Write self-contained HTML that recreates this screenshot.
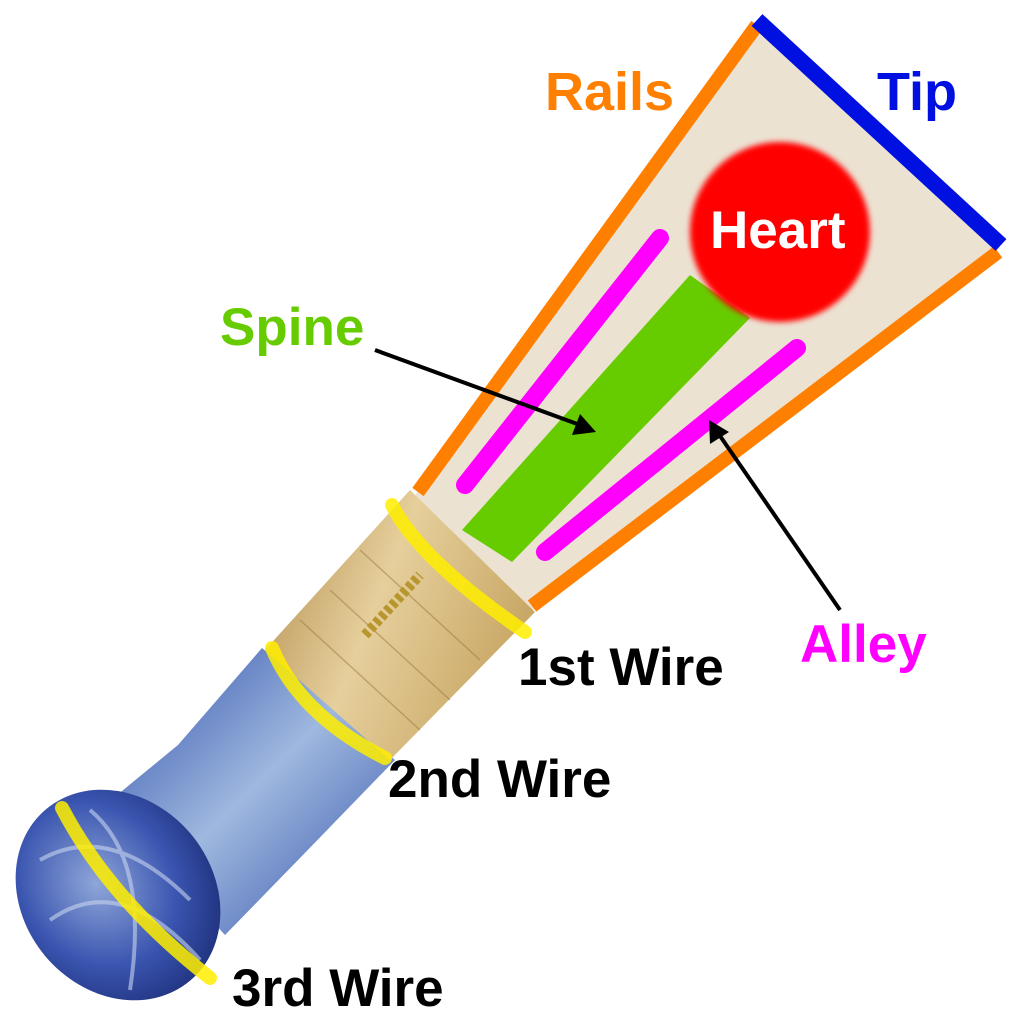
<!DOCTYPE html>
<html><head><meta charset="utf-8"><style>
html,body{margin:0;padding:0;background:#fff;}
svg{display:block;}
text{font-family:"Liberation Sans",Arial,sans-serif;font-weight:bold;}
</style></head><body>
<svg width="1024" height="1024" viewBox="0 0 1024 1024" xmlns="http://www.w3.org/2000/svg">
<defs>
<radialGradient id="ball" cx="0.45" cy="0.4" r="0.65">
<stop offset="0" stop-color="#8fa6d8"/><stop offset="0.6" stop-color="#3a55b0"/><stop offset="1" stop-color="#1e2f7a"/>
</radialGradient>
<linearGradient id="neck" x1="0" y1="0" x2="1" y2="1">
<stop offset="0" stop-color="#2a4aa8"/><stop offset="0.5" stop-color="#9fb8df"/><stop offset="1" stop-color="#2f4fa8"/>
</linearGradient>
<linearGradient id="tube" x1="0" y1="0" x2="1" y2="0.4">
<stop offset="0" stop-color="#b08a4a"/><stop offset="0.5" stop-color="#e6cf9c"/><stop offset="1" stop-color="#c9a866"/>
</linearGradient>
<filter id="blur"><feGaussianBlur stdDeviation="3"/></filter>
</defs>
<!-- blade -->
<polygon points="415,495 755,22 1000,248 530,612" fill="#ece2d2"/>
<!-- ball & neck -->
<polygon points="262,648 395,760 300,858 225,935 105,805 178,745" fill="url(#neck)"/>
<ellipse cx="118" cy="895" rx="95" ry="112" transform="rotate(-40 118 895)" fill="url(#ball)"/>
<g stroke="#c7d4ee" stroke-width="4" fill="none" opacity="0.6">
<path d="M40,860 Q110,820 190,900"/><path d="M50,920 Q120,870 200,960"/><path d="M90,810 Q150,860 130,990"/>
</g>
<!-- tube -->
<polygon points="410,490 535,612 390,760 265,650" fill="url(#tube)"/>
<g stroke="#9a7a40" stroke-width="1.5" opacity="0.5">
<line x1="330" y1="590" x2="450" y2="700"/><line x1="300" y1="620" x2="420" y2="730"/><line x1="360" y1="550" x2="480" y2="660"/>
</g>
<path d="M365,635 L420,575" stroke="#b8962e" stroke-width="10" stroke-dasharray="5,3"/>
<!-- rails & tip -->
<line x1="418" y1="492" x2="757" y2="25" stroke="#ff8000" stroke-width="14"/>
<line x1="998" y1="252" x2="532" y2="606" stroke="#ff8000" stroke-width="14"/>
<line x1="757" y1="20" x2="1001" y2="245" stroke="#0010e0" stroke-width="16"/>
<!-- spine -->
<polygon points="462,530 690,275 750,318 512,562" fill="#66cc00"/>
<!-- heart -->
<circle cx="780" cy="232" r="90" fill="#ff0000" filter="url(#blur)"/>
<!-- alleys -->
<line x1="465" y1="485" x2="660" y2="238" stroke="#ff00ff" stroke-width="18" stroke-linecap="round"/>
<line x1="545" y1="552" x2="797" y2="348" stroke="#ff00ff" stroke-width="18" stroke-linecap="round"/>
<!-- wires -->
<g stroke="#ffee00" stroke-width="14" stroke-linecap="round" fill="none" opacity="0.85">
<path d="M392,505 Q420,560 525,632"/>
<path d="M272,648 Q300,715 385,758"/>
<path d="M62,808 Q110,900 210,978"/>
</g>
<!-- arrows -->
<g stroke="#000" stroke-width="4">
<line x1="375" y1="350" x2="580" y2="425"/>
<line x1="840" y1="610" x2="718" y2="433"/>
</g>
<polygon points="596,432 572,435 580,414" fill="#000"/>
<polygon points="709,420 729,432 710,444" fill="#000"/>
<!-- labels -->
<text x="545" y="110" font-size="54" fill="#ff8000">Rails</text>
<text x="877" y="110" font-size="54" fill="#0010e0">Tip</text>
<text x="710" y="248" font-size="53" fill="#fff">Heart</text>
<text x="220" y="345" font-size="53" fill="#66cc00">Spine</text>
<text x="800" y="662" font-size="53" fill="#ff00ff">Alley</text>
<text x="518" y="685" font-size="53" fill="#000">1st Wire</text>
<text x="388" y="797" font-size="53" fill="#000">2nd Wire</text>
<text x="232" y="1006" font-size="53" fill="#000">3rd Wire</text>
</svg>
</body></html>
